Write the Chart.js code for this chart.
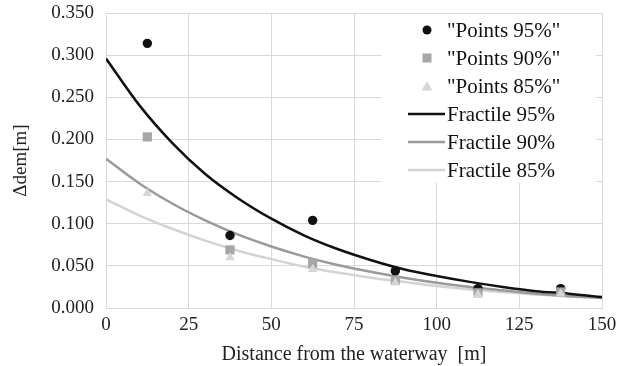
<!DOCTYPE html>
<html>
<head>
<meta charset="utf-8">
<script src="https://cdn.jsdelivr.net/npm/chart.js@4/dist/chart.umd.min.js"></script>
<style>
  html, body { margin: 0; padding: 0; background: #fff; }
  #wrap { width: 625px; height: 366px; }
</style>
</head>
<body>
<div id="wrap"><canvas id="chart"></canvas></div>
<script>
// measured points (distance classes)
const pointX = [12.5, 37.5, 62.5, 87.5, 112.5, 137.5];
const points95 = [0.314, 0.086, 0.104, 0.044, 0.023, 0.023];
const points90 = [0.203, 0.069, 0.053, 0.033, 0.018, 0.019];
const points85 = [0.136, 0.060, 0.046, 0.030, 0.016, 0.017];

// fractile curves
const curveX = [0, 10, 20, 30, 40, 50, 60, 70, 80, 90, 100, 110, 120, 130, 140, 150];
const fractile95 = [0.296, 0.241, 0.196, 0.159, 0.130, 0.106, 0.086, 0.070, 0.057, 0.046, 0.038, 0.031, 0.025, 0.020, 0.017, 0.013];
const fractile90 = [0.177, 0.148, 0.124, 0.104, 0.087, 0.073, 0.061, 0.051, 0.043, 0.036, 0.030, 0.025, 0.021, 0.017, 0.014, 0.012];
const fractile85 = [0.129, 0.110, 0.094, 0.080, 0.068, 0.058, 0.049, 0.042, 0.036, 0.031, 0.026, 0.022, 0.019, 0.016, 0.014, 0.012];

const xTicks = [0, 25, 50, 75, 100, 125, 150];
const yTicks = [0, 0.05, 0.1, 0.15, 0.2, 0.25, 0.3, 0.35];

const serif = '"Liberation Serif", "Times New Roman", serif';
const gridColor = '#d9d9d9';

const toXY = (xs, ys) => xs.map((x, i) => ({ x: x, y: ys[i] }));

// legend drawn inside the plot area, vertical list on a white box
const boxLegend = {
    id: 'boxLegend',
    afterDraw(chart) {
        const ctx = chart.ctx;
        const sets = chart.data.datasets;
        ctx.save();
        ctx.fillStyle = '#fff';
        ctx.fillRect(381, 14, 215, 169);
        ctx.font = '21px ' + serif;
        ctx.textBaseline = 'middle';
        const rows = [30, 58, 86, 114, 142, 170];
        sets.forEach((ds, i) => {
            const y = rows[i];
            const mx = 427;
            if (ds.showLine === false) {
                ctx.fillStyle = ds.backgroundColor;
                if (ds.pointStyle === 'circle') {
                    ctx.beginPath();
                    ctx.arc(mx, y, 4.5, 0, Math.PI * 2);
                    ctx.fill();
                } else if (ds.pointStyle === 'rect') {
                    ctx.fillRect(mx - 4.5, y - 4.5, 9, 9);
                } else {
                    ctx.beginPath();
                    ctx.moveTo(mx, y - 5);
                    ctx.lineTo(mx + 5.5, y + 4.5);
                    ctx.lineTo(mx - 5.5, y + 4.5);
                    ctx.closePath();
                    ctx.fill();
                }
            } else {
                ctx.strokeStyle = ds.borderColor;
                ctx.lineWidth = 2.5;
                ctx.beginPath();
                ctx.moveTo(408, y);
                ctx.lineTo(445, y);
                ctx.stroke();
            }
            ctx.fillStyle = '#111';
            ctx.fillText(ds.label, 447, y + 1);
        });
        ctx.restore();
    }
};

const scatterSet = (label, data, style, color, radius, order) => ({
    type: 'scatter',
    label: label,
    data: toXY(pointX, data),
    showLine: false,
    pointStyle: style,
    pointRadius: radius,
    pointHoverRadius: radius,
    backgroundColor: color,
    borderColor: color,
    borderWidth: 0,
    order: order
});

const lineSet = (label, data, color, order) => ({
    type: 'line',
    label: label,
    data: toXY(curveX, data),
    borderColor: color,
    backgroundColor: color,
    borderWidth: 2.5,
    pointRadius: 0,
    cubicInterpolationMode: 'monotone',
    fill: false,
    order: order
});

new Chart(document.getElementById('chart'), {
    data: {
        datasets: [
            scatterSet('"Points 95%"', points95, 'circle', '#111111', 4.7, 3),
            scatterSet('"Points 90%"', points90, 'rect', '#a6a6a6', 6.5, 2),
            scatterSet('"Points 85%"', points85, 'triangle', '#d6d6d6', 5.5, 1),
            lineSet('Fractile 95%', fractile95, '#111111', 4),
            lineSet('Fractile 90%', fractile90, '#9a9a9a', 5),
            lineSet('Fractile 85%', fractile85, '#d3d3d3', 6)
        ]
    },
    options: {
        responsive: true,
        maintainAspectRatio: false,
        animation: false,
        events: [],
        layout: { padding: { top: 13, right: 23, left: 0, bottom: 0 } },
        plugins: {
            legend: { display: false },
            tooltip: { enabled: false }
        },
        scales: {
            x: {
                type: 'linear',
                min: 0,
                max: 150,
                afterFit: s => { s.height = 58; s.paddingLeft = 0; s.paddingRight = 0; },
                afterBuildTicks: s => { s.ticks = xTicks.map(v => ({ value: v })); },
                ticks: {
                    font: { family: serif, size: 19 },
                    color: '#222',
                    padding: 6,
                    maxRotation: 0,
                    autoSkip: false
                },
                grid: { color: gridColor, drawTicks: false },
                border: { color: gridColor },
                title: {
                    display: true,
                    text: 'Distance from the waterway  [m]',
                    font: { family: serif, size: 20, lineHeight: 1 },
                    color: '#222',
                    padding: { top: 0, bottom: 1 }
                }
            },
            y: {
                type: 'linear',
                min: 0,
                max: 0.35,
                afterFit: s => { s.width = 106; s.paddingTop = 0; s.paddingBottom = 0; },
                afterBuildTicks: s => { s.ticks = yTicks.map(v => ({ value: v })); },
                ticks: {
                    font: { family: serif, size: 19 },
                    color: '#222',
                    padding: 12,
                    callback: v => v.toFixed(3)
                },
                grid: { color: gridColor, drawTicks: false },
                border: { color: gridColor },
                title: {
                    display: true,
                    text: 'Δdem[m]',
                    font: { family: serif, size: 19, lineHeight: 1 },
                    color: '#222',
                    padding: { top: 12, bottom: 0 }
                }
            }
        }
    },
    plugins: [boxLegend]
});
</script>
</body>
</html>
